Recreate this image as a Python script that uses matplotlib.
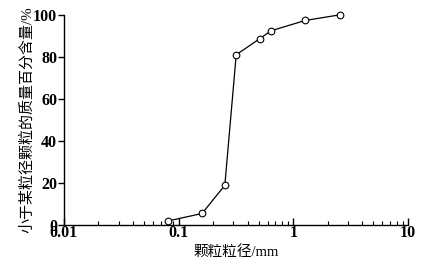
import numpy as np
import matplotlib
matplotlib.use("Agg")
import matplotlib.pyplot as plt

plt.rcParams['font.family'] = ['Liberation Serif', 'Noto Sans CJK SC', 'DejaVu Sans']

# grain size distribution
size_mm = [0.08, 0.16, 0.253, 0.318, 0.508, 0.64, 1.27, 2.56]
passing = [2.0, 5.6, 19.0, 81.0, 88.6, 92.4, 97.3, 100.0]

y_ticks = [0, 20, 40, 60, 80, 100]
x_ticks = [0.01, 0.1, 1, 10]
x_ticklabels = ['0.01', '0.1', '1', '10']

fig = plt.figure(figsize=(4.28, 2.69), dpi=100)
ax = fig.add_axes([0.1495, 0.1625, 0.8035, 0.7825])

ax.plot(size_mm, passing, color='black', lw=0.9, marker='o', ms=4.8,
        mfc='white', mec='black', mew=0.8, clip_on=False, zorder=3)

ax.set_xscale('log')
ax.set_xlim(0.01, 10)
ax.set_ylim(0, 100)
ax.set_xticks(x_ticks)
ax.set_xticklabels(x_ticklabels)
ax.set_yticks(y_ticks)

for s in ['top', 'right']:
    ax.spines[s].set_visible(False)
for s in ['left', 'bottom']:
    ax.spines[s].set_linewidth(1.0)

ax.tick_params(axis='x', which='major', direction='in', length=5, width=1,
               labelsize=11.5, pad=0)
ax.tick_params(axis='x', which='minor', direction='in', length=3, width=0.8)
ax.tick_params(axis='y', which='major', direction='out', length=4, width=1,
               labelsize=11.5, pad=1)
for lab in ax.get_xticklabels() + ax.get_yticklabels():
    lab.set_fontweight('bold')

ax.set_xlabel('颗粒粒径/mm', fontsize=10.5, labelpad=3)
ax.set_ylabel('小于某粒径颗粒的质量百分含量/%', fontsize=10.8, labelpad=-1)

fig.savefig('out.png', dpi=100)
